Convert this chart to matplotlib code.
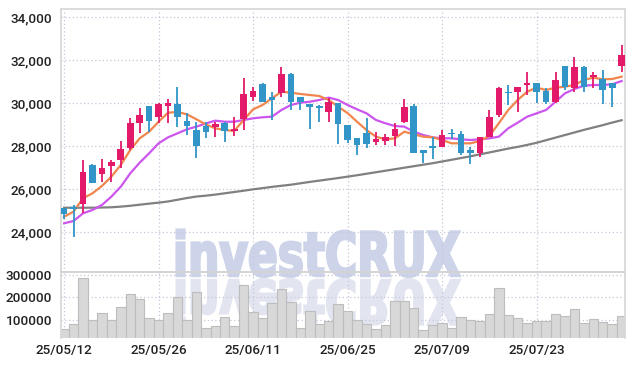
import matplotlib
matplotlib.use("Agg")
import numpy as np
from matplotlib import pyplot as plt
from matplotlib.textpath import TextPath
from matplotlib.patches import PathPatch
from matplotlib.font_manager import FontProperties
from matplotlib.transforms import Affine2D, IdentityTransform

# daily candles (60 trading days)
opens = [25100, 25150, 25300, 27117, 26710, 27070, 27350, 27907, 29056, 29860,
         29335, 29875, 29950, 29163, 28744, 28930, 28900, 29085, 28700, 29242,
         30293, 30884, 30293, 30480, 31335, 30280, 29968, 29860, 29596, 30015,
         28977, 28360, 28590, 28186, 28248, 28466, 29130, 29860, 27815, 28000,
         27970, 28570, 28560, 27815, 27660, 28404, 29442, 30470, 30525, 30860,
         30920, 30560, 30060, 31720, 30684, 31680, 31210, 31100, 30920, 31735]
highs = [25120, 25250, 27350, 27150, 27380, 27350, 28230, 29290, 29754, 29870,
         29990, 30170, 30730, 29520, 29130, 29130, 29130, 29130, 29363, 31149,
         30760, 30920, 30500, 31660, 31380, 30280, 29968, 29907, 30220, 30015,
         28977, 28360, 29316, 28637, 28558, 29056, 30170, 29940, 27815, 28435,
         28745, 28777, 28700, 27970, 28400, 29675, 30760, 30840, 30730, 31460,
         30950, 30700, 31460, 31720, 32150, 31700, 31450, 31535, 30950, 32700]
lows = [24620, 23780, 24900, 26290, 26340, 26330, 26960, 27810, 28590, 28665,
        29056, 29056, 28900, 28510, 27430, 28360, 28430, 28170, 28465, 28744,
        30107, 30061, 29210, 30293, 29675, 29675, 28777, 29130, 29130, 28093,
        28155, 27582, 27893, 28047, 28047, 28015, 29056, 27690, 27195, 27380,
        27970, 28310, 27600, 27163, 27500, 28400, 29365, 29907, 29600, 30370,
        29990, 29950, 29990, 30600, 30525, 30525, 30680, 29940, 29830, 31460]
closes = [24850, 25050, 26780, 26300, 26960, 27256, 27847, 29056, 29440, 29177,
          29940, 29985, 29335, 28944, 28015, 28665, 29023, 28712, 28805, 30419,
          30558, 30061, 30140, 31349, 30061, 30030, 29800, 29783, 30047, 29023,
          28280, 28047, 28080, 28310, 28404, 28790, 29800, 27690, 27690, 27893,
          28512, 28540, 27660, 27690, 28400, 29363, 30684, 30450, 30730, 30900,
          30525, 30060, 31070, 30760, 31680, 30760, 31300, 30600, 30710, 32235]
volumes = [58700, 80900, 285000, 100000, 130000, 100000, 159000, 214000, 192000, 110000,
           100000, 130000, 201000, 100000, 226000, 63000, 75000, 115000, 75000, 254000,
           134000, 107000, 174000, 236000, 181000, 63000, 140000, 81000, 95500, 171000,
           140000, 100000, 81000, 59000, 77000, 183000, 183000, 152000, 55000, 77000,
           85000, 63000, 112000, 100000, 95500, 127000, 241000, 121000, 107000, 85000,
           95500, 95500, 127000, 116000, 149000, 87000, 104000, 91000, 83000, 116000]

# moving averages
ma_short = [24710, 24945, 25567, 25800, 26140, 26573, 27117, 27814, 28357, 28665,
            29130, 29550, 29582, 29474, 29242, 29000, 28823, 28744, 28700, 29210,
            29707, 29907, 30220, 30526, 30480, 30420, 30372, 30326, 30140, 29830,
            29530, 29130, 28744, 28433, 28310, 28357, 28666, 28545, 28433, 28404,
            28280, 28125, 28125, 28125, 28233, 28470, 29056, 29675, 30140, 30526,
            30712, 30605, 30712, 30760, 30837, 31070, 31180, 31100, 31117, 31225]
ma_mid = [24405, 24512, 24870, 25024, 25256, 25645, 26108, 26730, 27225, 27660,
          28125, 28404, 28590, 28777, 28900, 29050, 29178, 29130, 29130, 29210,
          29288, 29335, 29365, 29675, 29907, 30015, 30060, 30140, 30250, 30140,
          29907, 29707, 29520, 29210, 29056, 28930, 28900, 28666, 28512, 28404,
          28357, 28357, 28310, 28280, 28310, 28357, 28433, 28823, 29085, 29365,
          29520, 29675, 30060, 30450, 30650, 30805, 30837, 30837, 30870, 31023]
ma_long = [25130, 25130, 25130, 25130, 25140, 25150, 25180, 25220, 25270, 25320,
           25365, 25420, 25500, 25580, 25650, 25690, 25740, 25800, 25860, 25920,
           25985, 26040, 26100, 26150, 26200, 26265, 26330, 26390, 26450, 26510,
           26575, 26640, 26710, 26780, 26850, 26920, 26990, 27060, 27130, 27200,
           27280, 27360, 27440, 27520, 27614, 27700, 27790, 27880, 27960, 28050,
           28150, 28270, 28390, 28510, 28630, 28750, 28860, 28970, 29090, 29200]

tick_pos = [0, 10, 20, 30, 40, 50]
tick_labels = ['25/05/12', '25/05/26', '25/06/11', '25/06/25', '25/07/09', '25/07/23']
price_ticks = [24000, 26000, 28000, 30000, 32000, 34000]
vol_ticks = [100000, 200000, 300000]

RED = '#e3196a'
BLUE = '#3195c8'
GRID = '#c6c6da'
FONT = 'Roboto'
FS = 9.7
TXT = '#222222'

fig = plt.figure(figsize=(6.34, 3.66), dpi=100)
W, H = 634, 366

# watermark with reflection (figure pixels), squeezed horizontally
fp = FontProperties(family='DejaVu Sans', weight='bold')
tp = TextPath((0, 0), 'investCRUX', size=61, prop=fp)
sx = 283 / (tp.get_extents().x1 - tp.get_extents().x0)
main = PathPatch(tp, transform=Affine2D().scale(sx, 1).translate(173, H - 276) + IdentityTransform(),
                 facecolor='#cdd4e9', edgecolor='#cdd4e9', linewidth=1.8, zorder=-2)
refl = PathPatch(tp, transform=Affine2D().scale(sx, -1).translate(173, H - 280) + IdentityTransform(),
                 facecolor='#e2e5f0', edgecolor='#e2e5f0', linewidth=1.8, zorder=-2)
fig.patches.extend([main, refl])

ax = fig.add_axes([60.5 / W, 1 - 272 / H, 564 / W, 263 / H])
axv = fig.add_axes([60.5 / W, 1 - 338 / H, 564 / W, 66 / H], sharex=ax)
for a in (ax, axv):
    a.set_facecolor('none')
    for s in a.spines.values():
        s.set_color('#d6d6d6')
        s.set_linewidth(1.2)
    a.grid(True, color=GRID, linestyle=(0, (1, 2)), linewidth=0.9)
    a.set_axisbelow(True)
    a.tick_params(length=0, colors=TXT, pad=6)
axv.spines['bottom'].set_visible(False)
ax.spines['bottom'].set_color('#c8c8c8')

x = np.arange(len(opens))
o = np.array(opens)
c = np.array(closes)
up = c >= o
colors = np.where(up, RED, BLUE)

ax.vlines(x, lows, highs, colors=colors, linewidth=1.3, zorder=3)
bottoms = np.minimum(o, c)
heights = np.maximum(np.abs(c - o), 60)
ax.bar(x, heights, bottom=bottoms, width=0.7, color=colors, edgecolor='none', zorder=4)

ax.plot(x, ma_long, color='#808080', linewidth=1.6, zorder=2)
ax.plot(x, ma_mid, color='#cc55ee', linewidth=1.6, zorder=2)
ax.plot(x, ma_short, color='#f0864e', linewidth=1.6, zorder=2)

ax.set_ylim(22140, 34372)
ax.set_yticks(price_ticks)
ax.set_yticklabels([f'{v:,}' for v in price_ticks], family=FONT, weight='medium',
                   fontsize=FS, color=TXT)
ax.set_xlim(-0.38, 59.3)
ax.tick_params(axis='x', labelbottom=False)

axv.bar(x, volumes, width=1.0, color='#d8d8d8', edgecolor='#bdbdbd', linewidth=0.8, zorder=2)
axv.set_ylim(20000, 313000)
axv.set_yticks(vol_ticks)
axv.set_yticklabels([str(v) for v in vol_ticks], family=FONT, weight='medium',
                    fontsize=FS, color=TXT)
axv.set_xticks(tick_pos)
axv.set_xticklabels(tick_labels, family=FONT, weight='medium', fontsize=FS, color=TXT)
axv.tick_params(axis='x', pad=4)

fig.savefig('out.png', dpi=100)
